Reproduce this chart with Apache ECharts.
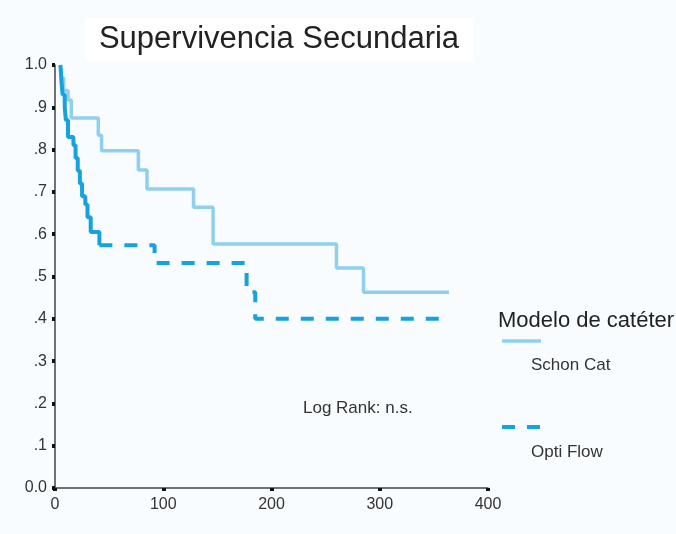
<!DOCTYPE html>
<html><head><meta charset="utf-8">
<script src="https://cdn.jsdelivr.net/npm/echarts@6/dist/echarts.min.js"></script>
<style>html,body{margin:0;padding:0;background:#f8fcfe}#c{width:676px;height:534px}</style>
</head><body><div id="c"></div>
<script>
const xTicks = [0, 100, 200, 300, 400];
const yTickLabels = ['0.0', '.1', '.2', '.3', '.4', '.5', '.6', '.7', '.8', '.9', '1.0'];
const seriesNames = ['Schon Cat', 'Opti Flow'];
// Kaplan-Meier steps: [time, survival]
const schonCat = [[5,1.0],[6,0.97],[8,0.94],[12,0.917],[15,0.875],[40,0.834],[43,0.797],[77,0.752],[85,0.707],[128,0.664],[146,0.577],[260,0.52],[285,0.463],[364,0.463]];
const optiFlow = [[5,1.0],[6,0.96],[7,0.93],[9,0.90],[10,0.87],[12,0.83],[17,0.81],[19,0.78],[21,0.75],[23,0.72],[25,0.69],[28,0.67],[30,0.64],[33,0.605],[41,0.574],[92,0.532],[177,0.463],[185,0.40],[358,0.40]];

const splitT = 41;
const optiEarly = optiFlow.filter(d => d[0] <= splitT);
const optiLate = optiFlow.filter(d => d[0] >= splitT);

const chart = echarts.init(document.getElementById('c'), null, {renderer:'canvas'});
const font = 'Liberation Sans, Arial, sans-serif';
const darkBlue = '#17a2dd', lightBlue = '#8fd0f0';
chart.setOption({
  backgroundColor: '#f8fcfe',
  animation: false,
  title: {
    text: 'Supervivencia Secundaria', left: 265, top: 18, textAlign: 'center',
    textStyle: {fontFamily: font, fontSize: 31, fontWeight: 'normal', color: '#222'},
    backgroundColor: '#ffffff', padding: [6, 14]
  },
  grid: {left: 55, top: 65, right: 188, bottom: 46},
  xAxis: {
    type: 'value', min: 0, max: 400, interval: 100,
    axisLine: {show: true, lineStyle: {color: '#444', width: 1.5}},
    axisTick: {show: true, length: 3, lineStyle: {color: '#111', width: 4}},
    splitLine: {show: false},
    axisLabel: {fontFamily: font, fontSize: 16, color: '#333', margin: 9,
      formatter: v => xTicks.includes(v) ? String(v) : ''}
  },
  yAxis: {
    type: 'value', min: 0, max: 1, interval: 0.1,
    axisLine: {show: true, lineStyle: {color: '#444', width: 1.5}},
    axisTick: {show: true, length: 3, lineStyle: {color: '#111', width: 4}},
    splitLine: {show: false},
    axisLabel: {fontFamily: font, fontSize: 16, color: '#333', margin: 8,
      formatter: v => yTickLabels[Math.round(v * 10)]}
  },
  series: [
    {name: seriesNames[0], type: 'line', step: 'end', data: schonCat, showSymbol: false,
     lineStyle: {color: lightBlue, width: 3.5}, z: 2},
    {name: seriesNames[1], type: 'line', step: 'end', data: optiEarly, showSymbol: false,
     lineStyle: {color: darkBlue, width: 4}, z: 3},
    {name: seriesNames[1], type: 'line', step: 'end', data: optiLate, showSymbol: false,
     lineStyle: {color: darkBlue, width: 4, type: [13, 12]}, z: 3}
  ],
  graphic: [
    {type: 'text', left: 303, top: 400, style: {text: 'Log Rank: n.s.', font: '17px ' + font, fill: '#333'}},
    {type: 'text', left: 498, top: 310, style: {text: 'Modelo de catéter', font: '22px ' + font, fill: '#222'}},
    {type: 'line', shape: {x1: 502, y1: 341, x2: 541, y2: 341}, style: {stroke: lightBlue, lineWidth: 3.5}},
    {type: 'text', left: 531, top: 357, style: {text: seriesNames[0], font: '17px ' + font, fill: '#333'}},
    {type: 'line', shape: {x1: 502, y1: 427, x2: 541, y2: 427}, style: {stroke: darkBlue, lineWidth: 4, lineDash: [13, 12]}},
    {type: 'text', left: 531, top: 444, style: {text: seriesNames[1], font: '17px ' + font, fill: '#333'}}
  ]
});
</script></body></html>
